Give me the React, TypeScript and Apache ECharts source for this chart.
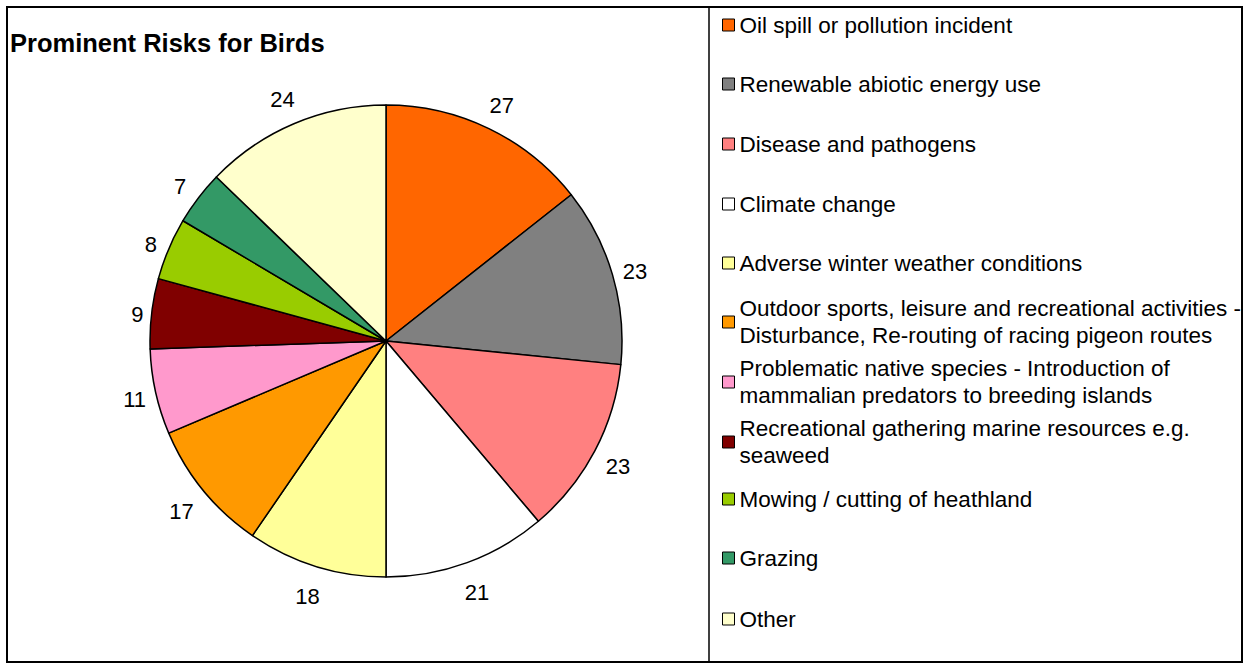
import React, { useEffect, useRef } from "react";
import * as echarts from "echarts";

const categories = [
  "Oil spill or pollution incident",
  "Renewable abiotic energy use",
  "Disease and pathogens",
  "Climate change",
  "Adverse winter weather conditions",
  "Outdoor sports, leisure and recreational activities - Disturbance, Re-routing of racing pigeon routes",
  "Problematic native species - Introduction of mammalian predators to breeding islands",
  "Recreational gathering marine resources e.g. seaweed",
  "Mowing / cutting of heathland",
  "Grazing",
  "Other",
];
const legendLines = [
  ["Oil spill or pollution incident"],
  ["Renewable abiotic energy use"],
  ["Disease and pathogens"],
  ["Climate change"],
  ["Adverse winter weather conditions"],
  ["Outdoor sports, leisure and recreational activities -", "Disturbance, Re-routing of racing pigeon routes"],
  ["Problematic native species - Introduction of", "mammalian predators to breeding islands"],
  ["Recreational gathering marine resources e.g.", "seaweed"],
  ["Mowing / cutting of heathland"],
  ["Grazing"],
  ["Other"],
];
const values = [27, 23, 23, 21, 18, 17, 11, 9, 8, 7, 24];
const colors = [
  "#FF6600", "#808080", "#FF8080", "#FFFFFF", "#FFFF99", "#FF9900",
  "#FF99CC", "#800000", "#99CC00", "#339966", "#FFFFCC",
];
const legendCenters = [25, 84, 144, 204, 263, 322, 382, 442, 499, 558, 619];

const FONT = "'Liberation Sans', Arial, sans-serif";
const LH = 27;
const CX = 386;
const CY = 341;
const R = 236;

export default function App() {
  const ref = useRef<HTMLDivElement>(null);
  useEffect(() => {
    if (!ref.current) return;
    const chart = echarts.init(ref.current, null, { renderer: "svg" });
    const total = values.reduce((a, b) => a + b, 0);
    const midAngles: number[] = [];
    let acc = 0;
    values.forEach((v) => {
      midAngles.push(((acc + v / 2) / total) * Math.PI * 2);
      acc += v;
    });
    const legends = categories.map((name, i) => {
      const lines = legendLines[i];
      const two = lines.length > 1;
      return {
        data: [name],
        orient: "vertical",
        left: 722,
        top: two ? legendCenters[i] - 40.5 : legendCenters[i] - 13.5,
        padding: 0,
        icon: "rect",
        itemWidth: 12,
        itemHeight: 12,
        itemStyle: { borderColor: "#000", borderWidth: 1 },
        selectedMode: false,
        formatter: () => lines.join("\n"),
        textStyle: {
          fontFamily: FONT,
          fontSize: 22.5,
          color: "#000",
          lineHeight: LH,
          padding: two ? [LH, 0, 0, 0] : 0,
        },
      };
    });
    chart.setOption({
      animation: false,
      backgroundColor: "#fff",
      title: {
        text: "Prominent Risks for Birds",
        left: 10,
        top: 30,
        padding: 0,
        textStyle: { fontFamily: FONT, fontSize: 25.5, fontWeight: "bold", color: "#000" },
      },
      legend: legends,
      graphic: [
        { type: "rect", shape: { x: 7, y: 7, width: 1235, height: 655 }, style: { fill: "none", stroke: "#000", lineWidth: 2 }, z: 100 },
        { type: "line", shape: { x1: 709, y1: 7, x2: 709, y2: 662 }, style: { stroke: "#000", lineWidth: 1.5 }, z: 100 },
      ],
      series: [
        {
          type: "pie",
          center: [CX, CY],
          radius: R,
          startAngle: 90,
          clockwise: true,
          avoidLabelOverlap: false,
          data: categories.map((name, i) => ({
            name,
            value: values[i],
            itemStyle: { color: colors[i] },
          })),
          itemStyle: { borderColor: "#000", borderWidth: 1.5 },
          label: {
            show: true,
            position: "outside",
            formatter: "{c}",
            fontFamily: FONT,
            fontSize: 22,
            color: "#000",
          },
          labelLine: { show: false, length: 18, length2: 0 },
          labelLayout: (params: any) => {
            const a = midAngles[params.dataIndex];
            const ux = Math.sin(a);
            const uy = -Math.cos(a);
            const hw = params.labelRect.width / 2;
            const d = R + 6 + hw * Math.abs(ux) + 20 * Math.abs(uy);
            return {
              x: CX + d * ux,
              y: CY + d * uy + 3,
              align: "center",
              verticalAlign: "middle",
            };
          },
          emphasis: { disabled: true },
        },
      ],
    });
    return () => chart.dispose();
  }, []);
  return (
    <div
      ref={ref}
      style={{ position: "fixed", left: 0, top: 0, width: 1245, height: 666, background: "#fff" }}
    />
  );
}
